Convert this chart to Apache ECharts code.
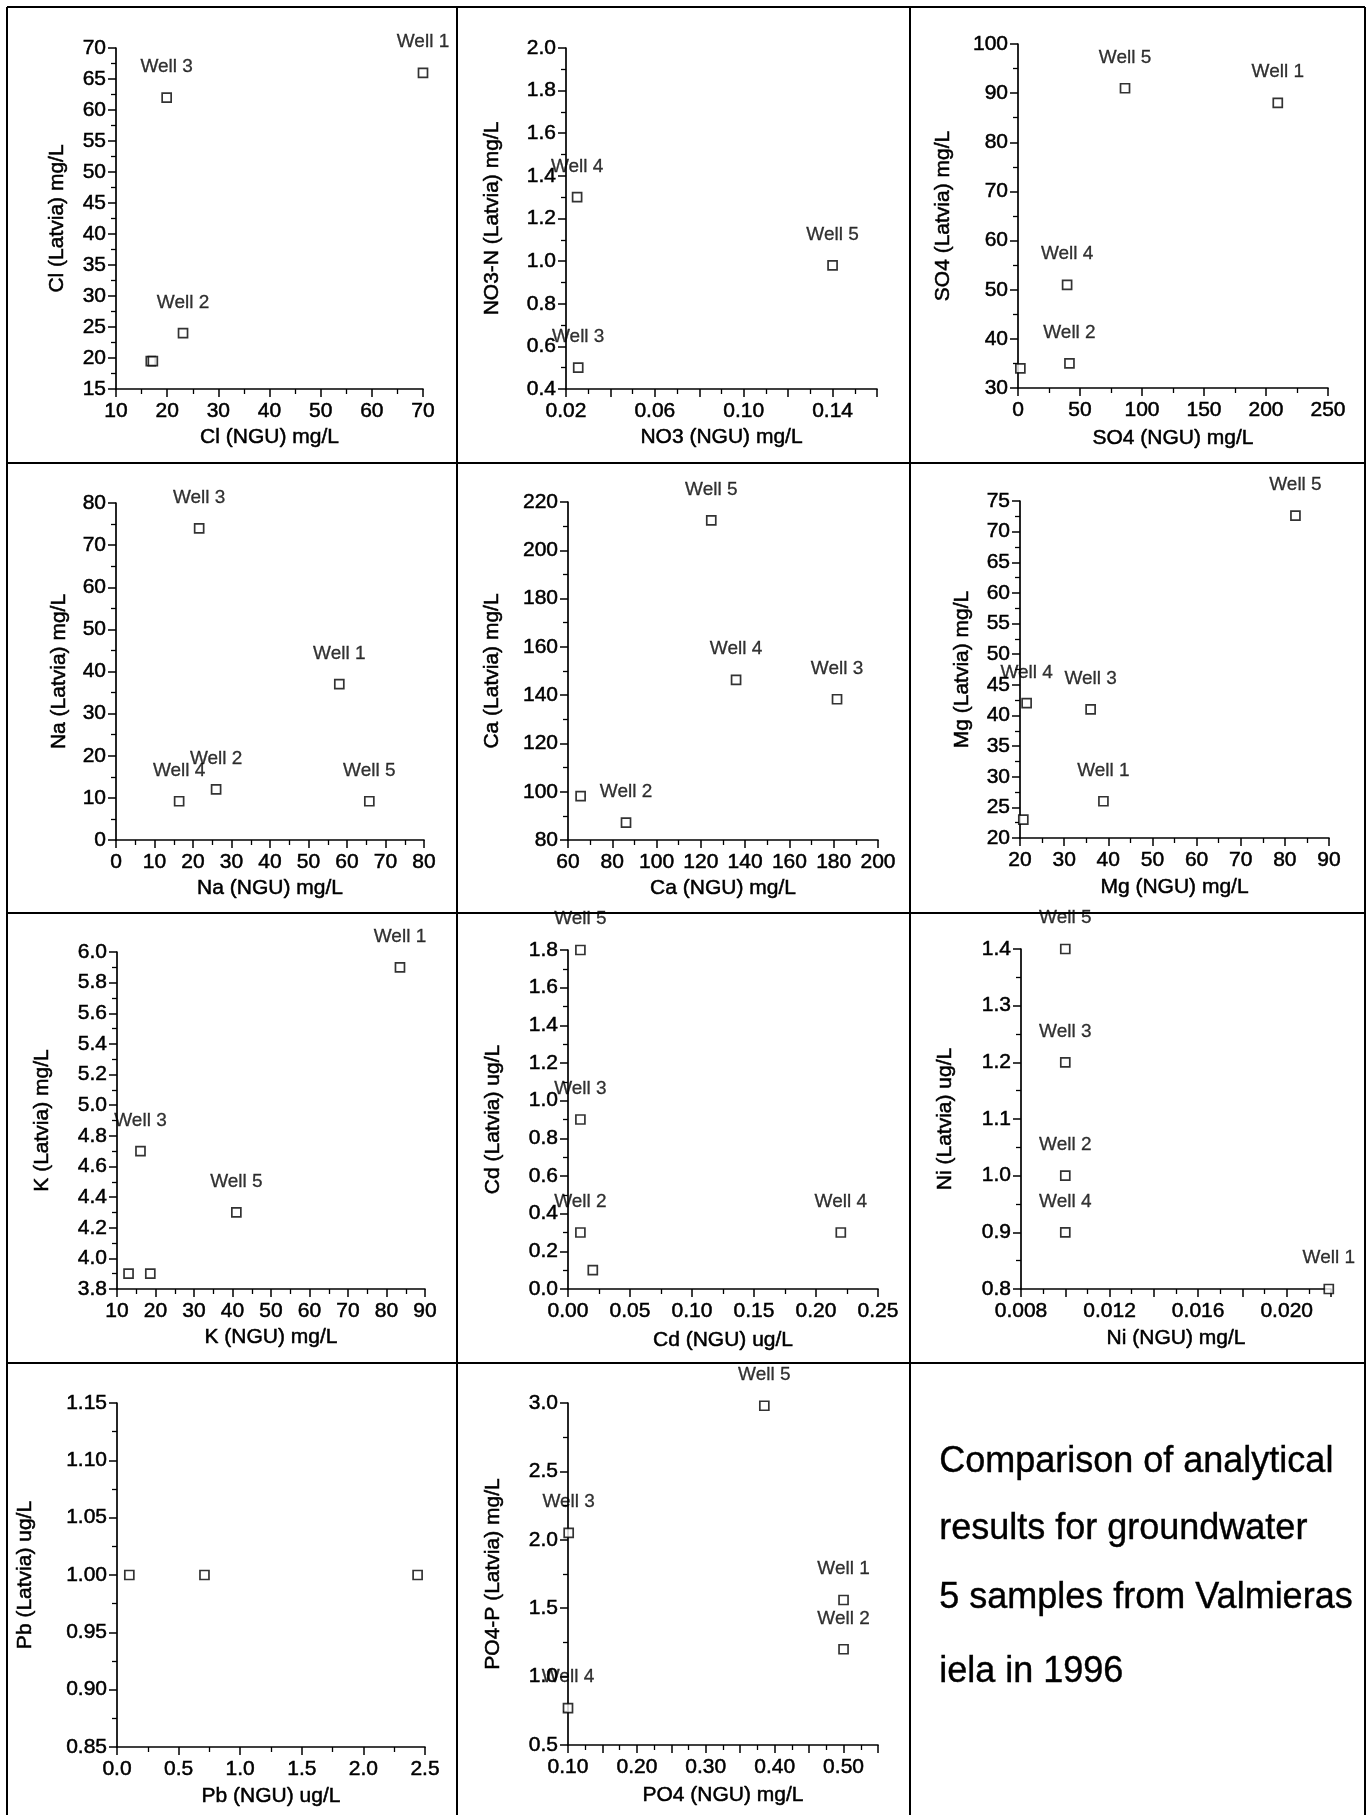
<!DOCTYPE html>
<html><head><meta charset="utf-8">
<script src="https://cdn.jsdelivr.net/npm/echarts@6/dist/echarts.min.js"></script>
<style>html,body{margin:0;padding:0;background:#fff}#c{width:1372px;height:1815px}</style>
</head><body><div id="c"></div><script>
const FONT = "'Liberation Sans', Arial, Helvetica, sans-serif";
const NARROW = "'Liberation Sans Narrow', 'Arial Narrow', 'Liberation Sans', sans-serif";

// ---- Cl ----
const clNGU = [70, 23.1, 19.9, 16.8, 17.2];
const clLatvia = [66, 24, 62, 19.5, 19.5];
const clLabels = ['Well 1', 'Well 2', 'Well 3', '', ''];
const clXTicks = [10, 20, 30, 40, 50, 60, 70];
const clYTicks = [15, 20, 25, 30, 35, 40, 45, 50, 55, 60, 65, 70];
// ---- NO3 ----
const no3NGU = [0.025, 0.0255, 0.14];
const no3Latvia = [1.3, 0.5, 0.98];
const no3Labels = ['Well 4', 'Well 3', 'Well 5'];
const no3XTicks = [0.02, 0.06, 0.10, 0.14];
const no3YTicks = [0.4, 0.6, 0.8, 1.0, 1.2, 1.4, 1.6, 1.8, 2.0];
// ---- SO4 ----
const so4NGU = [209.5, 41.5, 1.9, 39.6, 86.3];
const so4Latvia = [88, 35, 34, 51, 91];
const so4Labels = ['Well 1', 'Well 2', '', 'Well 4', 'Well 5'];
const so4XTicks = [0, 50, 100, 150, 200, 250];
const so4YTicks = [30, 40, 50, 60, 70, 80, 90, 100];
// ---- Na ----
const naNGU = [58, 26, 21.6, 16.4, 65.8];
const naLatvia = [37, 12, 74, 9.2, 9.2];
const naLabels = ['Well 1', 'Well 2', 'Well 3', 'Well 4', 'Well 5'];
const naXTicks = [0, 10, 20, 30, 40, 50, 60, 70, 80];
const naYTicks = [0, 10, 20, 30, 40, 50, 60, 70, 80];
// ---- Ca ----
const caNGU = [65.7, 86.2, 181.5, 135.9, 124.7];
const caLatvia = [98.2, 87.2, 138.3, 146.3, 212.4];
const caLabels = ['', 'Well 2', 'Well 3', 'Well 4', 'Well 5'];
const caXTicks = [60, 80, 100, 120, 140, 160, 180, 200];
const caYTicks = [80, 100, 120, 140, 160, 180, 200, 220];
// ---- Mg ----
const mgNGU = [38.9, 20.75, 36, 21.5, 82.4];
const mgLatvia = [26, 23, 41, 42, 72.6];
const mgLabels = ['Well 1', '', 'Well 3', 'Well 4', 'Well 5'];
const mgXTicks = [20, 30, 40, 50, 60, 70, 80, 90];
const mgYTicks = [20, 25, 30, 35, 40, 45, 50, 55, 60, 65, 70, 75];
// ---- K ----
const kNGU = [83.5, 13, 16.1, 18.65, 41];
const kLatvia = [5.9, 3.9, 4.7, 3.9, 4.3];
const kLabels = ['Well 1', '', 'Well 3', '', 'Well 5'];
const kXTicks = [10, 20, 30, 40, 50, 60, 70, 80, 90];
const kYTicks = [3.8, 4.0, 4.2, 4.4, 4.6, 4.8, 5.0, 5.2, 5.4, 5.6, 5.8, 6.0];
// ---- Cd ----
const cdNGU = [0.02, 0.01, 0.01, 0.22, 0.01];
const cdLatvia = [0.1, 0.3, 0.9, 0.3, 1.8];
const cdLabels = ['', 'Well 2', 'Well 3', 'Well 4', 'Well 5'];
const cdXTicks = [0, 0.05, 0.10, 0.15, 0.20, 0.25];
const cdYTicks = [0, 0.2, 0.4, 0.6, 0.8, 1.0, 1.2, 1.4, 1.6, 1.8];
// ---- Ni ----
const niNGU = [0.0219, 0.01, 0.01, 0.01, 0.01];
const niLatvia = [0.8, 1.0, 1.2, 0.9, 1.4];
const niLabels = ['Well 1', 'Well 2', 'Well 3', 'Well 4', 'Well 5'];
const niXTicks = [0.008, 0.012, 0.016, 0.020];
const niYTicks = [0.8, 0.9, 1.0, 1.1, 1.2, 1.3, 1.4];
// ---- Pb ----
const pbNGU = [0.1, 0.71, 2.44];
const pbLatvia = [1.0, 1.0, 1.0];
const pbLabels = ['', '', ''];
const pbXTicks = [0, 0.5, 1.0, 1.5, 2.0, 2.5];
const pbYTicks = [0.85, 0.90, 0.95, 1.00, 1.05, 1.10, 1.15];
// ---- PO4 ----
const po4NGU = [0.5, 0.5, 0.101, 0.1, 0.385];
const po4Latvia = [1.56, 1.2, 2.05, 0.77, 2.98];
const po4Labels = ['Well 1', 'Well 2', 'Well 3', 'Well 4', 'Well 5'];
const po4XTicks = [0.10, 0.20, 0.30, 0.40, 0.50];
const po4YTicks = [0.5, 1.0, 1.5, 2.0, 2.5, 3.0];

const titleLines = ['Comparison of analytical', 'results for groundwater', '5 samples from Valmieras', 'iela in 1996'];

// panel layout: data refs + axis settings + grid box
const panels = [
  {x: clNGU, y: clLatvia, lab: clLabels, xt: clXTicks, yt: clYTicks, xName: 'Cl (NGU) mg/L', yName: 'Cl (Latvia) mg/L',
   xMax: 70, xInt: 10, xDec: 0, yMax: 70, yInt: 5, yDec: 0, box: [116, 48, 307, 341], yGap: 48, xGap: 38},
  {x: no3NGU, y: no3Latvia, lab: no3Labels, xt: no3XTicks, yt: no3YTicks, xName: 'NO3 (NGU) mg/L', yName: 'NO3-N (Latvia) mg/L',
   xMax: 0.16, xInt: 0.02, xDec: 2, yMax: 2.0, yInt: 0.2, yDec: 1, box: [566, 48, 311, 341], yGap: 63, xGap: 38},
  {x: so4NGU, y: so4Latvia, lab: so4Labels, xt: so4XTicks, yt: so4YTicks, xName: 'SO4 (NGU) mg/L', yName: 'SO4 (Latvia) mg/L',
   xMax: 250, xInt: 50, xDec: 0, yMax: 100, yInt: 10, yDec: 0, box: [1018, 44, 310, 344], yGap: 64, xGap: 40},
  {x: naNGU, y: naLatvia, lab: naLabels, xt: naXTicks, yt: naYTicks, xName: 'Na (NGU) mg/L', yName: 'Na (Latvia) mg/L',
   xMax: 80, xInt: 10, xDec: 0, yMax: 80, yInt: 10, yDec: 0, box: [116, 503, 308, 337], yGap: 46, xGap: 38},
  {x: caNGU, y: caLatvia, lab: caLabels, xt: caXTicks, yt: caYTicks, xName: 'Ca (NGU) mg/L', yName: 'Ca (Latvia) mg/L',
   xMax: 200, xInt: 20, xDec: 0, yMax: 220, yInt: 20, yDec: 0, box: [568, 502, 310, 338], yGap: 65, xGap: 38},
  {x: mgNGU, y: mgLatvia, lab: mgLabels, xt: mgXTicks, yt: mgYTicks, xName: 'Mg (NGU) mg/L', yName: 'Mg (Latvia) mg/L',
   xMax: 90, xInt: 10, xDec: 0, yMax: 75, yInt: 5, yDec: 0, box: [1020, 501, 309, 337], yGap: 47, xGap: 39},
  {x: kNGU, y: kLatvia, lab: kLabels, xt: kXTicks, yt: kYTicks, xName: 'K (NGU) mg/L', yName: 'K (Latvia) mg/L',
   xMax: 90, xInt: 10, xDec: 0, yMax: 6.0, yInt: 0.2, yDec: 1, box: [117, 952, 308, 337], yGap: 64, xGap: 38},
  {x: cdNGU, y: cdLatvia, lab: cdLabels, xt: cdXTicks, yt: cdYTicks, xName: 'Cd (NGU) ug/L', yName: 'Cd (Latvia) ug/L',
   xMax: 0.25, xInt: 0.05, xDec: 2, yMax: 1.8, yInt: 0.2, yDec: 1, box: [568, 950, 310, 339], yGap: 64, xGap: 41},
  {x: niNGU, y: niLatvia, lab: niLabels, xt: niXTicks, yt: niYTicks, xName: 'Ni (NGU) mg/L', yName: 'Ni (Latvia) ug/L',
   xMax: 0.022, xInt: 0.002, xDec: 3, yMax: 1.4, yInt: 0.1, yDec: 1, box: [1021, 949, 310, 340], yGap: 65, xGap: 39},
  {x: pbNGU, y: pbLatvia, lab: pbLabels, xt: pbXTicks, yt: pbYTicks, xName: 'Pb (NGU) ug/L', yName: 'Pb (Latvia) ug/L',
   xMax: 2.5, xInt: 0.5, xDec: 1, yMax: 1.15, yInt: 0.05, yDec: 2, box: [117, 1403, 308, 344], yGap: 81, xGap: 39},
  {x: po4NGU, y: po4Latvia, lab: po4Labels, xt: po4XTicks, yt: po4YTicks, xName: 'PO4 (NGU) mg/L', yName: 'PO4-P (Latvia) mg/L',
   xMax: 0.55, xInt: 0.05, xDec: 2, yMax: 3.0, yInt: 0.5, yDec: 1, box: [568, 1403, 310, 342], yGap: 64, xGap: 40}
];

function fmt(ticks, interval, dec) {
  return function (v) {
    const hit = ticks.some(t => Math.abs(t - v) < interval * 1e-3);
    return hit ? v.toFixed(dec) : '';
  };
}
const black = '#000';
const heavy = {textBorderColor: '#000', textBorderWidth: 0.5};
const grid = [], xAxis = [], yAxis = [], series = [];
panels.forEach((p, i) => {
  grid.push({left: p.box[0], top: p.box[1], width: p.box[2], height: p.box[3], containLabel: false});
  const common = {
    type: 'value', gridIndex: i, splitLine: {show: false},
    axisLine: {show: true, onZero: false, lineStyle: {color: black, width: 1.7}},
    axisTick: {show: true, inside: false, length: 8, lineStyle: {color: black, width: 1.5}},
    minorTick: {show: true, splitNumber: 2, length: 5, lineStyle: {color: black, width: 1.3}},
    minorSplitLine: {show: false},
    nameLocation: 'middle',
    nameTextStyle: Object.assign({fontSize: 21, color: black, fontFamily: FONT}, heavy)
  };
  xAxis.push(Object.assign({}, common, {
    min: p.xt[0], max: p.xMax, interval: p.xInt, name: p.xName, nameGap: p.xGap,
    axisLabel: Object.assign({show: true, margin: 12, fontSize: 21, color: black, fontFamily: FONT, formatter: fmt(p.xt, p.xInt, p.xDec)}, heavy)
  }));
  yAxis.push(Object.assign({}, common, {
    min: p.yt[0], max: p.yMax, interval: p.yInt, name: p.yName, nameGap: p.yGap,
    axisLabel: Object.assign({show: true, margin: 10, fontSize: 21, color: black, fontFamily: FONT, formatter: fmt(p.yt, p.yInt, p.yDec)}, heavy)
  }));
  series.push({
    type: 'scatter', xAxisIndex: i, yAxisIndex: i, clip: false, z: 5,
    symbol: 'rect', symbolSize: 9,
    itemStyle: {color: '#fff', borderColor: black, borderWidth: 1.7},
    emphasis: {disabled: true},
    label: Object.assign({show: true, position: 'top', distance: 16, formatter: '{b}', color: black, fontSize: 19, fontFamily: NARROW}, {textBorderColor: '#000', textBorderWidth: 0.3}),
    data: p.x.map((v, j) => ({value: [v, p.y[j]], name: p.lab[j], label: {show: !!p.lab[j]}}))
  });
});

const graphic = [];
[7, 457, 910, 1365].forEach(x => graphic.push({type: 'line', shape: {x1: x, y1: 7, x2: x, y2: 1815}, style: {stroke: black, lineWidth: 2}}));
[7, 463, 913, 1363].forEach(y => graphic.push({type: 'line', shape: {x1: 7, y1: y, x2: 1365, y2: y}, style: {stroke: black, lineWidth: 2}}));
const titleY = [1464, 1531, 1600, 1674];
titleLines.forEach((t, k) => graphic.push({type: 'text', left: 939, top: titleY[k] - 20,
  style: {text: t, fontSize: 36, fontFamily: FONT, fill: black, stroke: black, lineWidth: 0.4, verticalAlign: 'top'}}));

const chart = echarts.init(document.getElementById('c'), null, {renderer: 'canvas'});
chart.setOption({animation: false, backgroundColor: '#fff', grid, xAxis, yAxis, series, graphic, tooltip: {show: false}});
</script></body></html>
